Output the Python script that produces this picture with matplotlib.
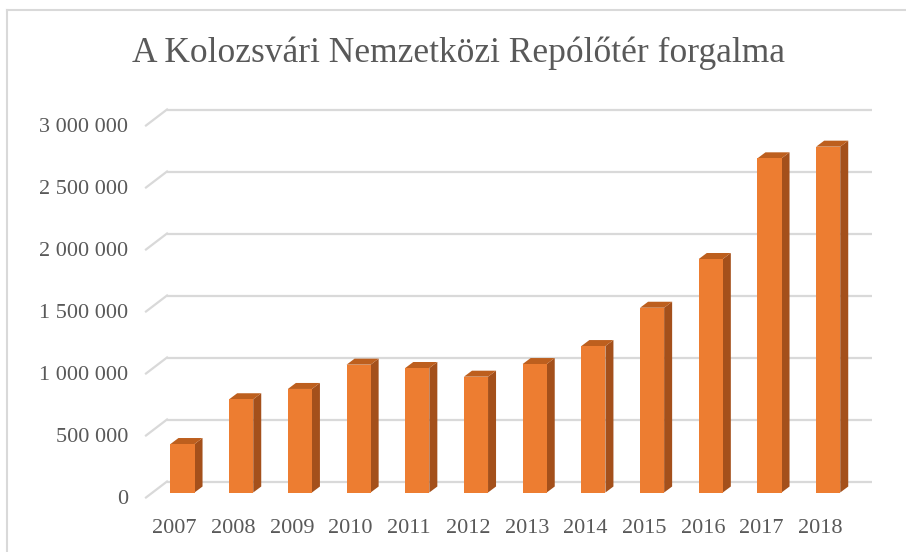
import matplotlib
matplotlib.use('Agg')
import matplotlib.pyplot as plt
import matplotlib.transforms as mtransforms
from matplotlib.patches import Polygon
from matplotlib.lines import Line2D

# Passengers per year
years = ['2007', '2008', '2009', '2010', '2011', '2012',
         '2013', '2014', '2015', '2016', '2017', '2018']
passengers = [391000, 752000, 835000, 1031000, 1004000, 934000,
              1036000, 1181000, 1490000, 1883000, 2695000, 2789000]
yticks = [0, 500000, 1000000, 1500000, 2000000, 2500000, 3000000]
ytick_labels = ['0', '500 000', '1 000 000', '1 500 000',
                '2 000 000', '2 500 000', '3 000 000']

W, H, DPI = 906, 552, 100
front = '#ED7D31'
side = '#A4501B'
top = '#BD5F1E'
grid_c = '#D9D9D9'
text_c = '#595959'
font = 'Liberation Serif'

fig = plt.figure(figsize=(W / DPI, H / DPI), dpi=DPI)
fig.patch.set_facecolor('white')

# axes = front plane of the bars (pixel geometry)
left_px, right_px = 146, 872
base_px, ymax_px = 492.5, 120.5
ax = fig.add_axes([left_px / W, (H - base_px) / H,
                   (right_px - left_px) / W, (base_px - ymax_px) / H])
ax.set_facecolor('none')
step_px = 58.7
x0_px = 182.5
ax.set_xlim((left_px - x0_px) / step_px, (right_px - x0_px) / step_px)
ax.set_ylim(0, 3000000)
for s in ax.spines.values():
    s.set_visible(False)

px_x = 1.0 / step_px                      # one pixel in x data units
px_y = 3000000 / (base_px - ymax_px)      # one pixel in y data units

# gridlines on back wall + short diagonal on the side wall
xback = (167 - x0_px) * px_x
xfront = (left_px - x0_px) * px_x
for v in yticks:
    ax.plot([xback, ax.get_xlim()[1]], [v + 11 * px_y] * 2, color=grid_c,
            lw=1.6, clip_on=False, zorder=1, solid_capstyle='butt')
    ax.plot([xfront, xback], [v - 5 * px_y, v + 11 * px_y], color=grid_c,
            lw=1.6, clip_on=False, zorder=1)

# bars: front face, side face, top face
bw = 0.41
dx, dy = 8 * px_x, 6 * px_y
xs = list(range(len(years)))
ax.bar(xs, passengers, width=bw, color=front, zorder=3, clip_on=False)
for x, v in zip(xs, passengers):
    xl, xr = x - bw / 2, x + bw / 2
    ax.add_patch(Polygon([(xr, 0), (xr, v), (xr + dx, v + dy), (xr + dx, dy)],
                         closed=True, facecolor=side, edgecolor='none',
                         zorder=2, clip_on=False))
    ax.add_patch(Polygon([(xl, v), (xr, v), (xr + dx, v + dy), (xl + dx, v + dy)],
                         closed=True, facecolor=top, edgecolor='none',
                         zorder=2, clip_on=False))

# tick labels
ax.set_xticks(xs, labels=years)
ax.set_yticks(yticks, labels=ytick_labels)
ax.tick_params(axis='both', length=0, labelcolor=text_c, labelsize=16)
ax.tick_params(axis='x', pad=19)
ax.tick_params(axis='y', pad=13)
for lab in ax.get_xticklabels() + ax.get_yticklabels():
    lab.set_fontfamily(font)
xoff = mtransforms.ScaledTranslation(-8 / DPI, 0, fig.dpi_scale_trans)
yoff = mtransforms.ScaledTranslation(0, -5 / DPI, fig.dpi_scale_trans)
for lab in ax.get_xticklabels():
    lab.set_transform(lab.get_transform() + xoff)
for lab in ax.get_yticklabels():
    lab.set_transform(lab.get_transform() + yoff)

# title
fig.text(458 / W, (H - 62) / H, 'A Kolozsvári Nemzetközi Repólőtér forgalma',
         ha='center', va='baseline', fontsize=25.5, color=text_c, family=font)

# chart border (left and top edges visible)
fig.add_artist(Line2D([7 / W, 7 / W], [0, (H - 10) / H], color=grid_c, lw=1.5))
fig.add_artist(Line2D([7 / W, 1], [(H - 10) / H, (H - 10) / H], color=grid_c, lw=1.5))

fig.savefig('out.png', dpi=DPI)
